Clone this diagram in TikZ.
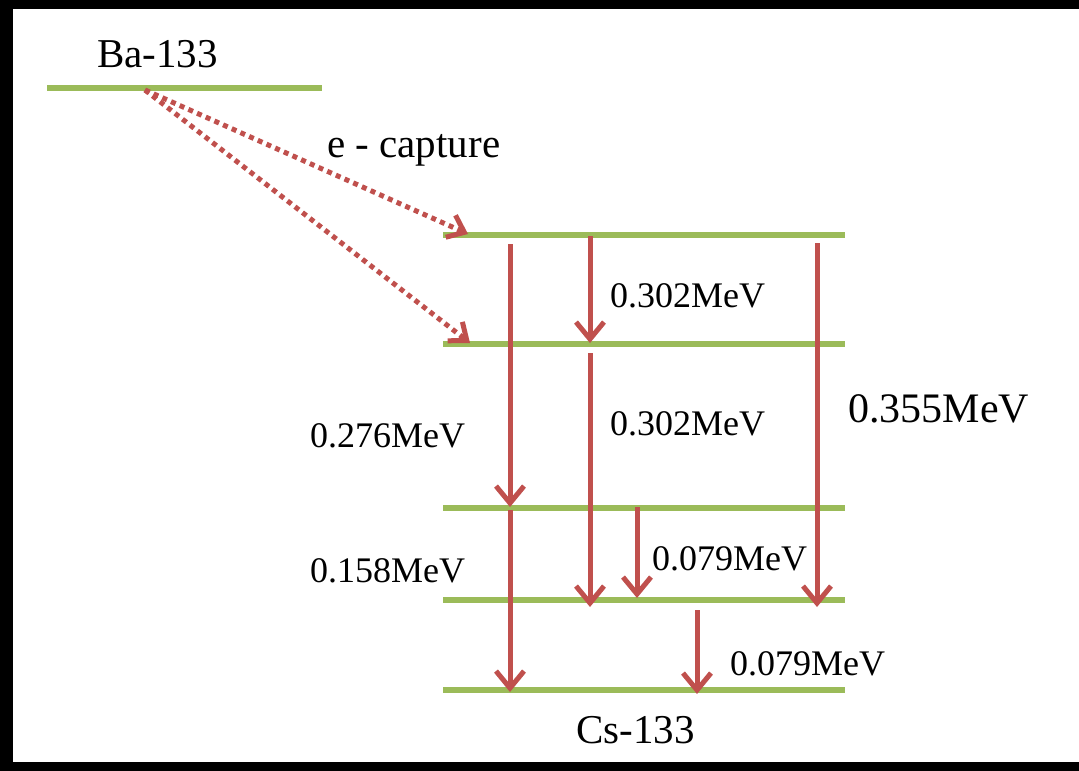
\documentclass[tikz,border=0pt]{standalone}
\usepackage{fontspec}
\setmainfont{Liberation Serif}
\usetikzlibrary{arrows.meta}
\definecolor{lvgreen}{HTML}{9BBB59}
\definecolor{trred}{HTML}{C0504D}
\tikzset{
  level/.style={draw=lvgreen, line width=6pt},
  trans/.style={draw=trred, line width=5pt, -{Straight Barb[length=17pt,width=28pt]}},
  capt/.style={draw=trred, line width=5pt, dash pattern=on 5pt off 4.5pt, -{Straight Barb[length=15pt,width=24pt]}},
  lbl/.style={inner sep=0pt, anchor=base west, font=\fontsize{36}{40}\selectfont},
  biglbl/.style={inner sep=0pt, anchor=base west, font=\fontsize{41}{46}\selectfont},
}
\begin{document}
\begin{tikzpicture}[x=1pt, y=-1pt]
\useasboundingbox (0,0) rectangle (1079,771);
\fill[white] (-6,-6) rectangle (1090,780);
% frame
\fill[black] (-6,-6) rectangle (1090,9);
\fill[black] (-6,-6) rectangle (13,780);
\fill[black] (-6,762) rectangle (1090,780);
% levels
\coordinate (ba-l) at (47,88);   \coordinate (ba-r) at (322,88);
\coordinate (l1-l) at (443,235); \coordinate (l1-r) at (845,235);
\coordinate (l2-l) at (443,344); \coordinate (l2-r) at (845,344);
\coordinate (l3-l) at (443,508); \coordinate (l3-r) at (845,508);
\coordinate (l4-l) at (443,600); \coordinate (l4-r) at (845,600);
\coordinate (l5-l) at (443,690); \coordinate (l5-r) at (845,690);
\draw[level] (ba-l) -- (ba-r);
\draw[level] (l1-l) -- (l1-r);
\draw[level] (l2-l) -- (l2-r);
\draw[level] (l3-l) -- (l3-r);
\draw[level] (l4-l) -- (l4-r);
\draw[level] (l5-l) -- (l5-r);
% electron capture
\coordinate (ec) at (145,90);
\coordinate (ec1) at (468,234);
\coordinate (ec2) at (470,343);
\draw[capt] (ec) -- (ec1);
\draw[capt] (ec) -- (ec2);
% transitions
\coordinate (a1s) at (510,244); \coordinate (a1e) at (510,507);
\coordinate (a2s) at (590,236); \coordinate (a2e) at (590,343);
\coordinate (a3s) at (590,353); \coordinate (a3e) at (590,607);
\coordinate (a4s) at (817,243); \coordinate (a4e) at (817,607);
\coordinate (a5s) at (510,510); \coordinate (a5e) at (510,692);
\coordinate (a6s) at (637,507); \coordinate (a6e) at (637,598);
\coordinate (a7s) at (697,610); \coordinate (a7e) at (697,694);
\draw[trans] (a1s) -- (a1e);
\draw[trans] (a2s) -- (a2e);
\draw[trans] (a3s) -- (a3e);
\draw[trans] (a4s) -- (a4e);
\draw[trans] (a5s) -- (a5e);
\draw[trans] (a6s) -- (a6e);
\draw[trans] (a7s) -- (a7e);
% labels
\node[biglbl] (ba) at (97,67) {Ba-133};
\node[biglbl] (cap) at (327,157) {e - capture};
\node[lbl] (t302a) at (610,307) {0.302MeV};
\node[lbl] (t302b) at (610,435) {0.302MeV};
\node[lbl] (t276) at (310,447) {0.276MeV};
\node[biglbl, font=\fontsize{42}{46}\selectfont] (t355) at (848,422) {0.355MeV};
\node[lbl] (t158) at (310,582) {0.158MeV};
\node[lbl] (t079a) at (652,570) {0.079MeV};
\node[lbl] (t079b) at (730,675) {0.079MeV};
\node[biglbl] (cs) at (576,743) {Cs-133};
\end{tikzpicture}
\end{document}
